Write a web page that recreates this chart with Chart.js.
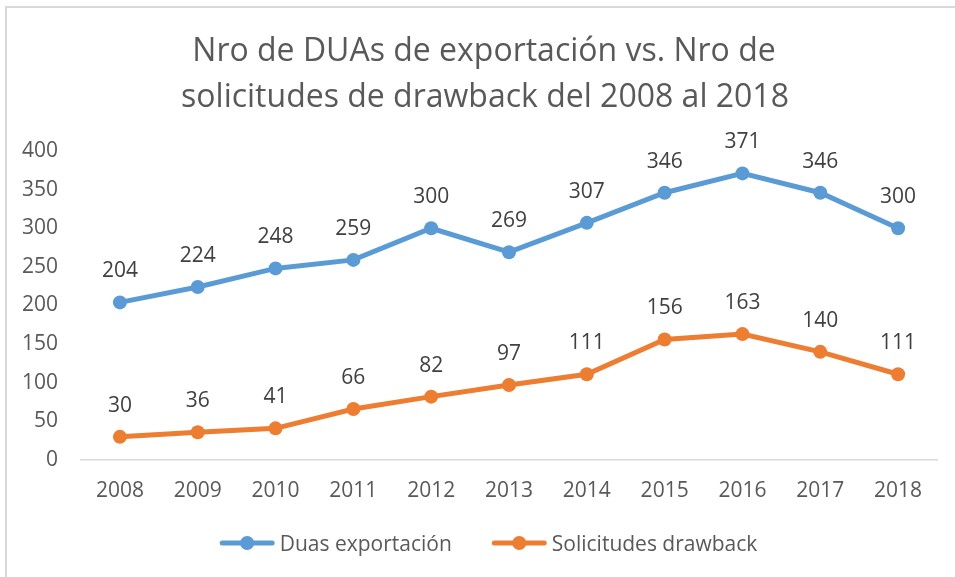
<!DOCTYPE html>
<html><head><meta charset="utf-8">
<script src="https://cdn.jsdelivr.net/npm/chart.js@4"></script>
<style>
html,body{margin:0;padding:0;background:#fff;overflow:hidden;}
#wrap{position:absolute;left:0;top:0;width:955px;height:577px;}
#frame{position:absolute;left:5px;top:6px;width:980px;height:600px;border-left:2px solid #d9d9d9;border-top:2px solid #d9d9d9;pointer-events:none;}
canvas{position:absolute;left:0;top:0;}
</style></head><body>
<div id="wrap"><canvas id="c" width="955" height="577"></canvas><div id="frame"></div></div>
<script>
const titleLines = ["Nro de DUAs de exportación vs. Nro de", "solicitudes de drawback del 2008 al 2018"];
const years = ["2008","2009","2010","2011","2012","2013","2014","2015","2016","2017","2018"];
const duas = [204,224,248,259,300,269,307,346,371,346,300];
const solicitudes = [30,36,41,66,82,97,111,156,163,140,111];
const seriesNames = ["Duas exportación","Solicitudes drawback"];
const yTicks = [0,50,100,150,200,250,300,350,400];

const FONT = "'Open Sans', sans-serif";
const BLUE = "#5B9BD5", ORANGE = "#ED7D31";

const titlePlugin = {
  id: 'titleP',
  afterDraw(chart) {
    const ctx = chart.ctx;
    ctx.save();
    ctx.fillStyle = '#595959';
    ctx.font = "32px " + FONT;
    ctx.textAlign = 'center';
    ctx.textBaseline = 'alphabetic';
    ctx.fillText(titleLines[0], 484, 61);
    ctx.fillText(titleLines[1], 485, 107);
    ctx.restore();
  }
};

const labelPlugin = {
  id: 'labelsP',
  afterDatasetsDraw(chart) {
    const ctx = chart.ctx;
    ctx.save();
    ctx.fillStyle = '#404040';
    ctx.font = "21px " + FONT;
    ctx.textAlign = 'center';
    ctx.textBaseline = 'alphabetic';
    chart.data.datasets.forEach((ds, di) => {
      const meta = chart.getDatasetMeta(di);
      meta.data.forEach((pt, i) => {
        ctx.fillText(String(ds.data[i]), pt.x, pt.y - 25);
      });
    });
    ctx.restore();
  }
};

const legendPlugin = {
  id: 'legendP',
  afterDraw(chart) {
    const ctx = chart.ctx;
    ctx.save();
    ctx.font = "21px " + FONT;
    ctx.textBaseline = 'alphabetic';
    const cy = 543, markW = 55, gapText = 5, gapItems = 40;
    const colors = [BLUE, ORANGE];
    const widths = seriesNames.map(n => ctx.measureText(n).width);
    const total = widths.reduce((a,w)=>a+markW+gapText+w,0) + gapItems;
    let x = 488.5 - total/2;
    seriesNames.forEach((n, i) => {
      ctx.strokeStyle = colors[i];
      ctx.lineWidth = 5;
      ctx.lineCap = 'round';
      ctx.beginPath(); ctx.moveTo(x+2.5, cy); ctx.lineTo(x+markW-2.5, cy); ctx.stroke();
      ctx.fillStyle = colors[i];
      ctx.beginPath(); ctx.arc(x+markW/2, cy, 7, 0, Math.PI*2); ctx.fill();
      ctx.fillStyle = '#595959';
      ctx.textAlign = 'left';
      ctx.fillText(n, x+markW+gapText, cy+8);
      x += markW + gapText + widths[i] + gapItems;
    });
    ctx.restore();
  }
};

new Chart(document.getElementById('c'), {
  type: 'line',
  data: {
    labels: years,
    datasets: [
      {label: seriesNames[0], data: duas, borderColor: BLUE, backgroundColor: BLUE, borderWidth: 5,
       pointRadius: 7, pointHoverRadius: 7, pointBackgroundColor: BLUE, pointBorderWidth: 0, tension: 0},
      {label: seriesNames[1], data: solicitudes, borderColor: ORANGE, backgroundColor: ORANGE, borderWidth: 5,
       pointRadius: 7, pointHoverRadius: 7, pointBackgroundColor: ORANGE, pointBorderWidth: 0, tension: 0}
    ]
  },
  options: {
    responsive: false,
    animation: false,
    devicePixelRatio: 1,
    layout: {padding: {left: 10, right: 18, top: 151, bottom: 0}},
    plugins: {legend: {display: false}, title: {display: false}, tooltip: {enabled: false}},
    scales: {
      x: {
        offset: true,
        grid: {display: false, drawTicks: false},
        border: {display: true, color: '#d9d9d9', width: 1.5},
        ticks: {color: '#595959', font: {family: FONT, size: 21}, padding: 18, maxRotation: 0},
        afterFit(s) { s.height = 117; }
      },
      y: {
        min: 0, max: 400,
        afterBuildTicks(s) { s.ticks = yTicks.map(v => ({value: v})); },
        grid: {display: false, drawTicks: false},
        border: {display: false},
        ticks: {color: '#595959', font: {family: FONT, size: 21}, padding: 23},
        afterFit(s) { s.width = 71; }
      }
    }
  },
  plugins: [titlePlugin, labelPlugin, legendPlugin]
});
</script>
</body></html>
